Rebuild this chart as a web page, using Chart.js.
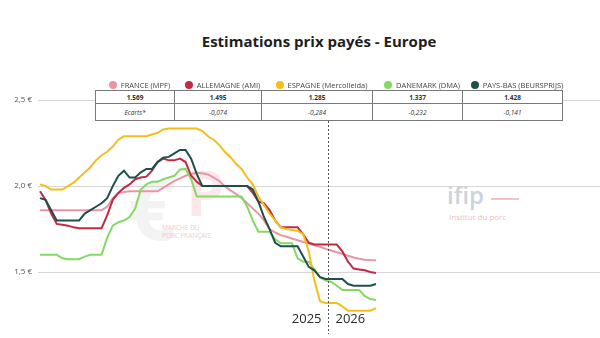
<!DOCTYPE html>
<html>
<head>
<meta charset="utf-8">
<script src="https://cdn.jsdelivr.net/npm/chart.js@4.4.1/dist/chart.umd.min.js"></script>
<style>
  html, body { margin: 0; padding: 0; background: #fff; }
  #wrap { position: relative; width: 600px; height: 338px; overflow: hidden; font-family: "Open Sans", sans-serif; }
  #title { position: absolute; left: 0; width: 638px; top: 31px; text-align: center; font-weight: bold; font-size: 15px; color: #1e1e1e; }
  #chart { position: absolute; left: 0; top: 0; z-index: 1; }
  .wm { position: absolute; z-index: 0; white-space: nowrap; }
  #legend { position: absolute; left: 100px; top: 80px; z-index: 2; display: flex; }
  #legend div { display: flex; align-items: center; justify-content: center; font-size: 7.5px; color: #444; }
  #legend span.dot { width: 8px; height: 8px; border-radius: 50%; margin-right: 4px; display: inline-block; }
  #tbl { position: absolute; left: 95px; top: 90px; z-index: 2; border-collapse: collapse; background: #fff; }
  #tbl td { border: 1px solid #7a7a7a; text-align: center; padding: 0; font-size: 6.5px; color: #333; }
  #tbl tr.v td { height: 12px; font-weight: bold; }
  #tbl tr.e td { height: 16px; font-style: italic; }
</style>
</head>
<body>
<div id="wrap">
  <div id="title">Estimations prix payés - Europe</div>

  <div class="wm" style="left:128px;top:150px;font-size:84px;font-weight:bold;color:#f3f3f3;">€</div>
  <div class="wm" style="left:186px;top:150px;font-size:62px;font-weight:bold;color:#fce8ea;">P</div>
  <div class="wm" style="left:162px;top:224px;font-size:6.5px;line-height:8px;color:#f1c9ce;">MARCHE DU<br>PORC FRANÇAIS</div>
  <div class="wm" style="left:447px;top:178px;font-size:24px;font-weight:600;color:#ccd3dc;">ifip</div>
  <div class="wm" style="left:491px;top:198px;width:28px;height:2px;background:#f3c2c9;"></div>
  <div class="wm" style="left:449px;top:211px;font-size:8px;color:#f2bcc4;">Institut du porc</div>

  <canvas id="chart" width="600" height="338"></canvas>

  <div id="legend"></div>
  <table id="tbl">
    <tr class="v"></tr>
    <tr class="e"></tr>
  </table>
</div>

<script>
// weekly estimates, week 1 2025 -> week 9 2026
var franceMPF = [1.86, 1.86, 1.86, 1.86, 1.86, 1.86, 1.86, 1.86, 1.86, 1.86,
  1.86, 1.86, 1.88, 1.93, 1.96, 1.965, 1.97, 1.97, 1.97, 1.97,
  1.97, 1.97, 1.99, 2.01, 2.03, 2.045, 2.06, 2.07, 2.077, 2.075,
  2.068, 2.05, 2.03, 2.0, 1.975, 1.955, 1.93, 1.90, 1.87, 1.84,
  1.80, 1.75, 1.73, 1.715, 1.705, 1.695, 1.685, 1.675, 1.667, 1.655,
  1.647, 1.635, 1.625, 1.615, 1.605, 1.595, 1.585, 1.577, 1.572, 1.57, 1.569];

var allemagneAMI = [1.97, 1.92, 1.84, 1.78, 1.775, 1.77, 1.76, 1.755, 1.755, 1.755,
  1.755, 1.755, 1.83, 1.92, 1.96, 1.99, 2.01, 2.04, 2.05, 2.055,
  2.09, 2.14, 2.16, 2.15, 2.15, 2.16, 2.14, 2.06, 2.025, 2.0,
  2.0, 2.0, 2.0, 2.0, 2.0, 2.0, 2.0, 2.0, 1.96, 1.91,
  1.90, 1.86, 1.80, 1.76, 1.76, 1.76, 1.76, 1.72, 1.67, 1.66,
  1.66, 1.66, 1.66, 1.66, 1.62, 1.56, 1.52, 1.515, 1.51, 1.50, 1.495];

var espagneMercolleida = [2.01, 2.0, 1.98, 1.98, 1.98, 2.0, 2.02, 2.05, 2.08, 2.11,
  2.15, 2.18, 2.20, 2.23, 2.27, 2.29, 2.29, 2.29, 2.29, 2.29,
  2.30, 2.31, 2.33, 2.335, 2.335, 2.335, 2.335, 2.335, 2.335, 2.32,
  2.29, 2.27, 2.24, 2.20, 2.17, 2.13, 2.10, 2.05, 2.01, 1.94,
  1.89, 1.84, 1.80, 1.76, 1.75, 1.745, 1.74, 1.72, 1.62, 1.45,
  1.33, 1.32, 1.32, 1.32, 1.30, 1.275, 1.275, 1.275, 1.275, 1.275, 1.29];

var danemarkDMA = [1.60, 1.60, 1.60, 1.60, 1.58, 1.575, 1.575, 1.575, 1.59, 1.60,
  1.60, 1.60, 1.70, 1.77, 1.79, 1.80, 1.82, 1.87, 1.98, 2.01,
  2.025, 2.025, 2.04, 2.05, 2.06, 2.097, 2.10, 2.04, 1.94, 1.94,
  1.94, 1.94, 1.94, 1.94, 1.94, 1.94, 1.94, 1.88, 1.80, 1.735,
  1.735, 1.735, 1.69, 1.667, 1.667, 1.667, 1.58, 1.56, 1.56, 1.515,
  1.47, 1.45, 1.444, 1.42, 1.395, 1.395, 1.395, 1.395, 1.36, 1.343, 1.337];

var paysBasBeursprijs = [1.93, 1.92, 1.86, 1.80, 1.80, 1.80, 1.80, 1.80, 1.84, 1.86,
  1.88, 1.90, 1.93, 2.00, 2.06, 2.09, 2.05, 2.05, 2.08, 2.10,
  2.10, 2.14, 2.165, 2.17, 2.19, 2.21, 2.21, 2.16, 2.07, 2.0,
  2.0, 2.0, 2.0, 2.0, 2.0, 2.0, 2.0, 2.0, 1.98, 1.91,
  1.82, 1.75, 1.67, 1.65, 1.65, 1.65, 1.65, 1.59, 1.53, 1.51,
  1.47, 1.46, 1.46, 1.46, 1.46, 1.43, 1.42, 1.42, 1.42, 1.42, 1.43];

var seriesNames = ["FRANCE (MPF)", "ALLEMAGNE (AMI)", "ESPAGNE (Mercolleida)", "DANEMARK (DMA)", "PAYS-BAS (BEURSPRIJS)"];
var seriesColors = ["#eb95a3", "#c22a44", "#f4be1a", "#86d864", "#1f4f49"];
var lastPrices = ["1.569", "1.495", "1.285", "1.337", "1.428"];
var ecarts = ["Ecarts*", "-0,074", "-0,284", "-0,232", "-0,141"];
var colWidths = [79, 87, 111, 90, 100];
var yTicks = [1.5, 2.0, 2.5];
var yearLabels = ["2025", "2026"];
var yearBreak = 51.5; // between week 52 of 2025 and week 1 of 2026

// legend + table
var legend = document.getElementById("legend");
var rowV = document.querySelector("#tbl tr.v");
var rowE = document.querySelector("#tbl tr.e");
seriesNames.forEach(function(name, i) {
  var item = document.createElement("div");
  item.style.width = colWidths[i] + "px";
  item.innerHTML = '<span class="dot" style="background:' + seriesColors[i] + '"></span>' + name;
  legend.appendChild(item);

  var td = document.createElement("td");
  td.style.width = (colWidths[i] - 1) + "px";
  td.textContent = lastPrices[i];
  rowV.appendChild(td);

  var td2 = document.createElement("td");
  td2.textContent = ecarts[i];
  rowE.appendChild(td2);
});

function toPoints(values) {
  return values.map(function(v, i) { return { x: i, y: v }; });
}

var allSeries = [franceMPF, allemagneAMI, espagneMercolleida, danemarkDMA, paysBasBeursprijs];
var drawOrder = [5, 3, 2, 4, 1];

var yearPlugin = {
  id: "yearBreak",
  afterDatasetsDraw: function(chart) {
    var ctx = chart.ctx;
    var x = Math.round(chart.scales.x.getPixelForValue(yearBreak)) + 0.5;
    ctx.save();
    ctx.strokeStyle = "#555";
    ctx.lineWidth = 1;
    ctx.setLineDash([2, 2]);
    ctx.beginPath();
    ctx.moveTo(x, 121);
    ctx.lineTo(x, 334);
    ctx.stroke();
    ctx.setLineDash([]);
    ctx.fillStyle = "#2a2a2a";
    ctx.font = "13px 'Open Sans'";
    ctx.textBaseline = "alphabetic";
    ctx.textAlign = "right";
    ctx.fillText(yearLabels[0], x - 7, 323);
    ctx.textAlign = "left";
    ctx.fillText(yearLabels[1], x + 7, 323);
    ctx.restore();
  }
};

var ctx = document.getElementById("chart").getContext("2d");
var priceChart = new Chart(ctx, {
  type: "line",
  data: {
    datasets: seriesNames.map(function(name, i) {
      return {
        label: name,
        data: toPoints(allSeries[i]),
        borderColor: seriesColors[i],
        backgroundColor: seriesColors[i],
        borderWidth: 2,
        pointRadius: 0,
        tension: 0,
        order: drawOrder[i]
      };
    })
  },
  options: {
    responsive: false,
    animation: false,
    layout: { padding: { top: 83, bottom: 23, left: 0, right: 0 } },
    scales: {
      x: {
        type: "linear",
        display: false,
        min: -0.35,
        max: 100
      },
      y: {
        min: 1.25,
        max: 2.6,
        afterFit: function(scale) { scale.width = 38; },
        afterBuildTicks: function(scale) {
          scale.ticks = yTicks.map(function(v) { return { value: v }; });
        },
        border: { display: false },
        grid: { color: "#d6d6d6", lineWidth: 1, drawTicks: false },
        ticks: {
          padding: 6,
          color: "#555",
          font: { family: "Open Sans", size: 8 },
          callback: function(v) { return v.toFixed(1).replace(".", ",") + " €"; }
        }
      }
    },
    plugins: {
      legend: { display: false },
      tooltip: { enabled: false }
    }
  },
  plugins: [yearPlugin]
});
</script>
</body>
</html>
